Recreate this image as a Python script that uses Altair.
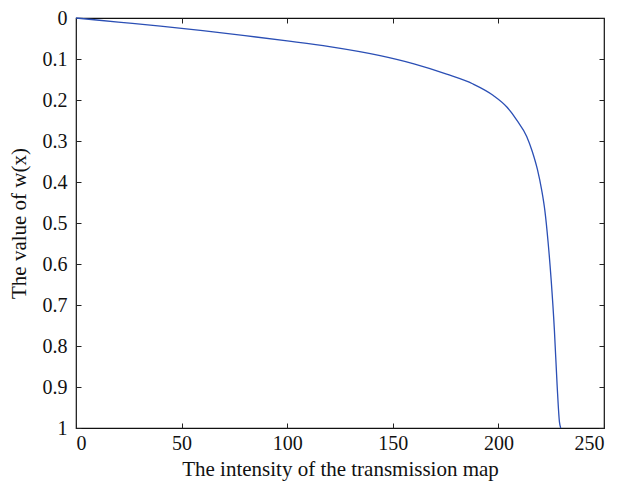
import altair as alt
import pandas as pd

# values
x_vals = [0, 20, 40, 60, 80, 100, 120, 144, 160, 175.5, 188, 197.6, 204, 208.7,
          213.4, 216, 218.5, 220.5, 222, 223.5, 225, 226.5, 227.8, 228.9, 229.5]
w_vals = [0, 0.010, 0.020, 0.031, 0.043, 0.056, 0.070, 0.092, 0.112, 0.137, 0.161,
          0.189, 0.217, 0.249, 0.289, 0.325, 0.370, 0.420, 0.470, 0.545, 0.640,
          0.760, 0.895, 0.985, 1.0]
x_ticks = [0, 50, 100, 150, 200, 250]
y_ticks = [0, 0.1, 0.2, 0.3, 0.4, 0.5, 0.6, 0.7, 0.8, 0.9, 1]

df = pd.DataFrame({"x": x_vals, "w": w_vals})

FONT = "Liberation Serif"
xscale = alt.Scale(domain=[0, 250], nice=False, zero=False)
yscale = alt.Scale(domain=[0, 1], reverse=True, nice=False)

common = dict(grid=False, domain=False, offset=-5, tickSize=5, tickColor="#222222",
              tickWidth=1, labelFont=FONT, labelFontSize=20, labelColor="#111111",
              titleFont=FONT, titleFontSize=21, titleColor="#111111",
              titleFontWeight="normal")

base = alt.Chart(df)

line = base.mark_line(color="#2b4fb5", strokeWidth=1.3, interpolate="monotone").encode(
    x=alt.X("x:Q", scale=xscale,
            axis=alt.Axis(orient="bottom", values=x_ticks, labelPadding=5,
                          title="The intensity of the transmission map",
                          titlePadding=5, **common)),
    y=alt.Y("w:Q", scale=yscale,
            axis=alt.Axis(orient="left", values=y_ticks, format="~g", labelPadding=9,
                          title="The value of w(x)", titlePadding=13, **common)),
)

mirror = base.mark_line(strokeOpacity=0).encode(
    x=alt.X("x:Q", scale=xscale,
            axis=alt.Axis(orient="top", values=x_ticks, labels=False, title=None, **common)),
    y=alt.Y("w:Q", scale=yscale,
            axis=alt.Axis(orient="right", values=y_ticks, labels=False, title=None, **common)),
)

chart = alt.layer(line, mirror).resolve_axis(
    x="independent", y="independent"
).properties(
    width=528, height=410,
    autosize=alt.AutoSizeParams(type="none"),
    padding={"left": 68, "top": 10, "right": 8, "bottom": 56},
    background="white",
).configure_view(stroke="#111111", strokeWidth=1.2)

chart.save("out.html", embed_options={"renderer": "svg", "actions": False})
